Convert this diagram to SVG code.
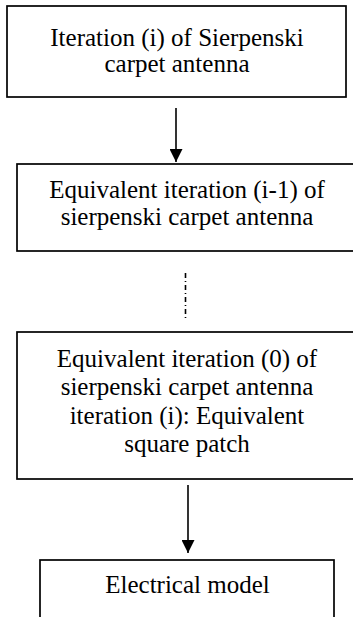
<svg xmlns="http://www.w3.org/2000/svg" width="353" height="617" viewBox="0 0 353 617">
<style>
.box{fill:#fff;stroke:#000;stroke-width:1.7}
.t{font-family:"Liberation Serif","Times New Roman",serif;font-size:25px;fill:#000;text-anchor:middle}
.ln{stroke:#000;stroke-width:1.6;fill:none}
</style>
<defs>
<marker id="ah" markerWidth="13" markerHeight="13" refX="13" refY="6.5" orient="auto" markerUnits="userSpaceOnUse">
<path d="M0,0 L13,6.5 L0,13 Z" fill="#000"/>
</marker>
</defs>
<rect width="353" height="617" fill="#fff"/>
<g id="node1">
<rect class="box" x="7" y="6" width="339" height="91"/>
<text class="t" x="177" y="46">Iteration (i) of Sierpenski<tspan x="177" dy="26">carpet antenna</tspan></text>
</g>
<g id="node2">
<rect class="box" x="17" y="164" width="345" height="87"/>
<text class="t" x="187" y="198">Equivalent iteration (i-1) of<tspan x="187" dy="27">sierpenski carpet antenna</tspan></text>
</g>
<g id="node3">
<rect class="box" x="17" y="332" width="345" height="147"/>
<text class="t" x="187" y="367">Equivalent iteration (0) of<tspan x="187" dy="28">sierpenski carpet antenna</tspan><tspan x="187" dy="29">iteration (i): Equivalent</tspan><tspan x="187" dy="28">square patch</tspan></text>
</g>
<g id="node4">
<rect class="box" x="40" y="560" width="294" height="70"/>
<text class="t" x="187.5" y="593">Electrical model</text>
</g>
<g id="connectors">
<line class="ln" x1="176" y1="108" x2="176" y2="162" marker-end="url(#ah)"/>
<line class="ln" x1="185.5" y1="273" x2="185.5" y2="321" stroke-dasharray="5 3 1 3"/>
<line class="ln" x1="188" y1="485" x2="188" y2="553" marker-end="url(#ah)"/>
</g>
</svg>
